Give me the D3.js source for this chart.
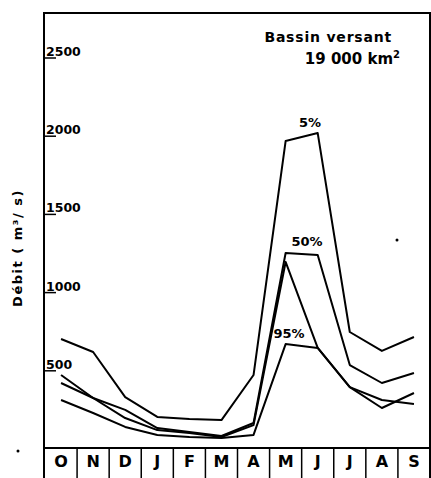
<!DOCTYPE html>
<html lang="fr">
<head>
<meta charset="UTF-8">
<title>debit</title>
<script src="https://d3js.org/d3.v7.min.js"></script>
<style>
    body { margin: 0; background: #fff; }
    svg { display: block; }
    text { font-family: "DejaVu Sans", Verdana, sans-serif; fill: #000; }
</style>
</head>
<body>
<script>
// hydrological year, October to September
var months = ["O", "N", "D", "J", "F", "M", "A", "M", "J", "J", "A", "S"];

// monthly discharge (m3/s)
var q5  = [703, 620, 332, 205, 192, 185, 473, 1969, 2020, 748, 627, 716];
var q50 = [473, 326, 250, 134, 109, 83, 166, 1253, 1240, 537, 422, 486];
var q95 = [313, 230, 141, 90, 77, 70, 90, 671, 646, 396, 313, 288];
var qAutre = [422, 326, 198, 121, 102, 77, 153, 1196, 646, 396, 262, 358];

var yTicks = [500, 1000, 1500, 2000, 2500];

var width = 431, height = 478;
var frameL = 44, frameR = 430, frameT = 13, axisY = 448;

var svg = d3.select("body").append("svg")
    .attr("width", width)
    .attr("height", height);

var x = d3.scaleBand()
    .domain(d3.range(months.length))
    .range([frameL + 1, frameR]);

var y = d3.scaleLinear()
    .domain([0, 2500])
    .range([449, 58]);

// frame
svg.append("path")
    .attr("d", "M" + frameL + "," + height + "V" + frameT + "H" + frameR + "V" + height)
    .attr("fill", "none")
    .attr("stroke", "#000")
    .attr("stroke-width", 2);

// bottom axis line
svg.append("line")
    .attr("x1", frameL).attr("x2", frameR)
    .attr("y1", axisY).attr("y2", axisY)
    .attr("stroke", "#000")
    .attr("stroke-width", 2);

// month cells
svg.selectAll(".sep")
    .data(d3.range(1, months.length))
    .enter().append("line")
    .attr("x1", function (i) { return x(i); })
    .attr("x2", function (i) { return x(i); })
    .attr("y1", axisY).attr("y2", height)
    .attr("stroke", "#000")
    .attr("stroke-width", 1.5);

svg.selectAll(".month")
    .data(months)
    .enter().append("text")
    .attr("x", function (d, i) { return x(i) + x.bandwidth() / 2; })
    .attr("y", 467)
    .attr("text-anchor", "middle")
    .style("font-size", "16px")
    .style("font-weight", "bold")
    .text(function (d) { return d; });

// y ticks: short underline with the value sitting on it
var tick = svg.selectAll(".tick")
    .data(yTicks)
    .enter().append("g")
    .attr("transform", function (d) { return "translate(0," + y(d) + ")"; });

tick.append("line")
    .attr("x1", frameL).attr("x2", 56)
    .attr("stroke", "#000")
    .attr("stroke-width", 1.5);

tick.append("text")
    .attr("x", 46)
    .attr("y", -2)
    .style("font-size", "12.5px")
    .style("font-weight", "bold")
    .text(function (d) { return d; });

// y title
svg.append("text")
    .attr("transform", "translate(22,248) rotate(-90)")
    .attr("text-anchor", "middle")
    .style("font-size", "13px")
    .style("font-weight", "bold")
    .style("letter-spacing", "1.5px")
    .text("Débit  ( m³/ s)");

// curves
var line = d3.line()
    .x(function (d, i) { return x(i) + x.bandwidth() / 2; })
    .y(function (d) { return y(d); });

svg.selectAll(".curve")
    .data([q5, q50, qAutre, q95])
    .enter().append("path")
    .attr("d", line)
    .attr("fill", "none")
    .attr("stroke", "#000")
    .attr("stroke-width", 2)
    .attr("stroke-linejoin", "round");

// curve labels
var labels = [
    { t: "5%", x: 310, y: 127 },
    { t: "50%", x: 307, y: 246 },
    { t: "95%", x: 289, y: 338 }
];
svg.selectAll(".lab")
    .data(labels)
    .enter().append("text")
    .attr("x", function (d) { return d.x; })
    .attr("y", function (d) { return d.y; })
    .attr("text-anchor", "middle")
    .style("font-size", "13px")
    .style("font-weight", "bold")
    .text(function (d) { return d.t; });

// basin area
svg.append("text")
    .attr("x", 392).attr("y", 42)
    .attr("text-anchor", "end")
    .style("font-size", "14px")
    .style("font-weight", "bold")
    .style("letter-spacing", "0.8px")
    .text("Bassin versant");

var area = svg.append("text")
    .attr("x", 400).attr("y", 64)
    .attr("text-anchor", "end")
    .style("font-size", "15px")
    .style("font-weight", "bold");
area.append("tspan").text("19 000 km");
area.append("tspan").attr("dy", -6).style("font-size", "10px").text("2");

// specks from the scan
svg.selectAll(".speck")
    .data([[397, 240], [18, 451]])
    .enter().append("circle")
    .attr("cx", function (d) { return d[0]; })
    .attr("cy", function (d) { return d[1]; })
    .attr("r", 1.5)
    .attr("fill", "#000");
</script>
</body>
</html>
